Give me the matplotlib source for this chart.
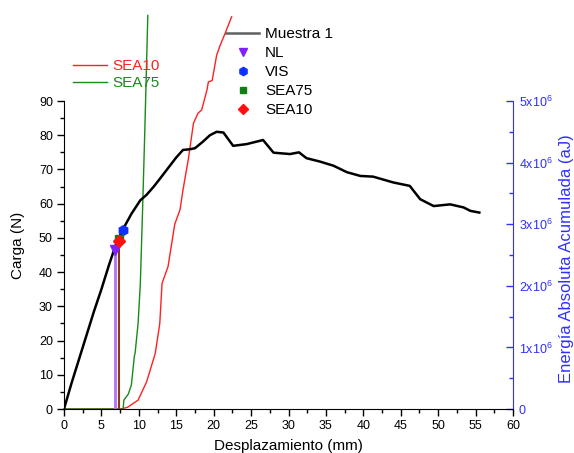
import matplotlib
matplotlib.use("Agg")
import matplotlib.pyplot as plt
from matplotlib.ticker import MultipleLocator, FixedLocator, FixedFormatter

plt.rcParams['font.family'] = ['Liberation Sans', 'DejaVu Sans']
plt.rcParams['mathtext.fontset'] = 'custom'
plt.rcParams['mathtext.rm'] = 'Liberation Sans'
plt.rcParams['mathtext.it'] = 'Liberation Sans'

# Load curve (Muestra 1)
disp = [0, 1, 2, 3, 4, 5, 6, 7, 8, 9, 10.2, 11, 12, 13, 13.7, 15, 15.9, 16.8, 17.5,
        18.5, 19.5, 20.4, 21.3, 22.6, 24.4, 25.5, 26.6, 28.0, 30.2, 31.4, 32.4, 34.2,
        36.0, 37.8, 39.6, 41.3, 44.0, 46.2, 47.6, 49.4, 51.6, 53.4, 54.3, 55.5]
load = [0, 7.5, 14.5, 21.5, 28.5, 35, 42, 48.5, 53, 57, 61, 62.5, 65, 67.8, 69.8, 73.5,
        75.7, 75.9, 76.2, 78, 80, 81, 80.8, 76.9, 77.4, 78, 78.6, 74.9, 74.5, 75.0, 73.3,
        72.3, 71.1, 69.2, 68.1, 67.9, 66.2, 65.2, 61.3, 59.3, 59.8, 58.9, 57.9, 57.4]

# Accumulated absolute energy (x10^6 aJ)
sea10_x = [0, 7.6, 8.5, 9.9, 11.05, 12.2, 12.8, 13.1, 13.9, 14.8, 15.5, 15.9, 16.6, 17.3,
           17.9, 18.4, 19.1, 19.3, 19.8, 20.4, 20.8, 21.7, 22.4]
sea10_e = [0, 0, 0.028, 0.144, 0.444, 0.906, 1.389, 2.039, 2.311, 3.0, 3.233, 3.556,
           4.044, 4.639, 4.8, 4.856, 5.178, 5.311, 5.333, 5.744, 5.883, 6.15, 6.367]
sea75_x = [0, 7.9, 8.0, 8.6, 9.0, 9.4, 9.5, 9.9, 10.2, 10.5, 10.8, 11.2]
sea75_e = [0, 0, 0.144, 0.244, 0.389, 0.856, 0.906, 1.389, 2.039, 3.233, 4.528, 6.389]

# Criteria points on load curve
nl_pt = (6.8, 46.5)
vis_pt = (7.9, 52.3)
sea75_pt = (7.4, 49.8)
sea10_pt = (7.4, 49.2)

xticks = [0, 5, 10, 15, 20, 25, 30, 35, 40, 45, 50, 55, 60]
yticks = [0, 10, 20, 30, 40, 50, 60, 70, 80, 90]
rticks = [0, 1e6, 2e6, 3e6, 4e6, 5e6]
rlabels = ['0', r'1x10$^6$', r'2x10$^6$', r'3x10$^6$', r'4x10$^6$', r'5x10$^6$']

fig = plt.figure(figsize=(5.74, 4.53), dpi=100)
ax = fig.add_axes([64/574, 44/453, 449/574, 308/453])
ax2 = ax.twinx()

blue = '#3030ff'

# energy curves on right axis
l10, = ax2.plot(sea10_x, [v*1e6 for v in sea10_e], color='#ff2020', lw=1.0, clip_on=False, zorder=2)
l75, = ax2.plot(sea75_x, [v*1e6 for v in sea75_e], color='#1a8a1a', lw=1.0, clip_on=False, zorder=2)
ax2.set_ylim(0, 5e6)

ax.set_zorder(ax2.get_zorder() + 1)
ax.patch.set_visible(False)

# drop lines
ax.plot([nl_pt[0], nl_pt[0]], [0, nl_pt[1]], color='#b070ff', lw=2.0, zorder=3)
ax.plot([sea10_pt[0], sea10_pt[0]], [0, sea10_pt[1]], color='#8a3a10', lw=1.5, zorder=3)

lm, = ax.plot(disp, load, color='black', lw=1.8, zorder=4)
hnl, = ax.plot([nl_pt[0]], [nl_pt[1]], 'v', color='#8020ff', ms=7, zorder=5, linestyle='none')
hvis, = ax.plot([vis_pt[0]], [vis_pt[1]], 'h', color='#1030ff', ms=7, zorder=5, linestyle='none')
h75, = ax.plot([sea75_pt[0]], [sea75_pt[1]], 's', color='#108010', ms=5.5, zorder=5, linestyle='none')
h10, = ax.plot([sea10_pt[0]], [sea10_pt[1]], 'D', color='#ff1010', ms=6, zorder=6, linestyle='none')

ax.set_xlim(0, 60)
ax.set_ylim(0, 90)
ax.xaxis.set_major_locator(FixedLocator(xticks))
ax.xaxis.set_minor_locator(MultipleLocator(2.5))
ax.yaxis.set_major_locator(FixedLocator(yticks))
ax.yaxis.set_minor_locator(MultipleLocator(5))
ax2.yaxis.set_major_locator(FixedLocator(rticks))
ax2.yaxis.set_major_formatter(FixedFormatter(rlabels))
ax2.yaxis.set_minor_locator(MultipleLocator(0.5e6))

for a in (ax, ax2):
    a.spines['top'].set_visible(False)
ax.spines['right'].set_visible(False)
ax2.spines['left'].set_visible(False)
ax2.spines['bottom'].set_visible(False)
ax2.spines['right'].set_color(blue)

ax.tick_params(which='major', direction='out', length=5, width=1, labelsize=9, pad=3)
ax.tick_params(which='minor', direction='out', length=3, width=1)
ax2.tick_params(which='major', direction='in', length=5, width=1, labelsize=9,
                colors=blue, pad=4.3)
ax2.tick_params(which='minor', direction='in', length=3, width=1, colors=blue)

ax.set_xlabel('Desplazamiento (mm)', fontsize=11)
ax.xaxis.set_label_coords(0.5, -0.097)
ax.set_ylabel('Carga (N)', fontsize=11)
ax.yaxis.set_label_coords(-0.087, 0.531)
ax2.set_ylabel('Energía Absoluta Acumulada (aJ)', fontsize=12, color=blue)
ax2.yaxis.set_label_coords(1.1024, 0.487)

leg1 = fig.legend([l10, l75], ['SEA10', 'SEA75'], loc='upper left',
                  bbox_to_anchor=(73/574, 1 - 59.5/453), frameon=False, fontsize=11,
                  borderpad=0, borderaxespad=0, handlelength=2.22, handletextpad=0.33,
                  labelspacing=0.16)
for t, c in zip(leg1.get_texts(), ['#ff2020', '#1a8a1a']):
    t.set_color(c)

leg2 = fig.legend([lm, hnl, hvis, h75, h10], ['Muestra 1', 'NL', 'VIS', 'SEA75', 'SEA10'],
                  loc='upper left', bbox_to_anchor=(226/574, 1 - 27/453), frameon=False,
                  fontsize=11, borderpad=0, borderaxespad=0, handlelength=2.16,
                  handletextpad=0.4, labelspacing=0.33, markerscale=0.85)
leg2.legend_handles[0].set_color('#606060')

fig.savefig('out.png', dpi=100)
